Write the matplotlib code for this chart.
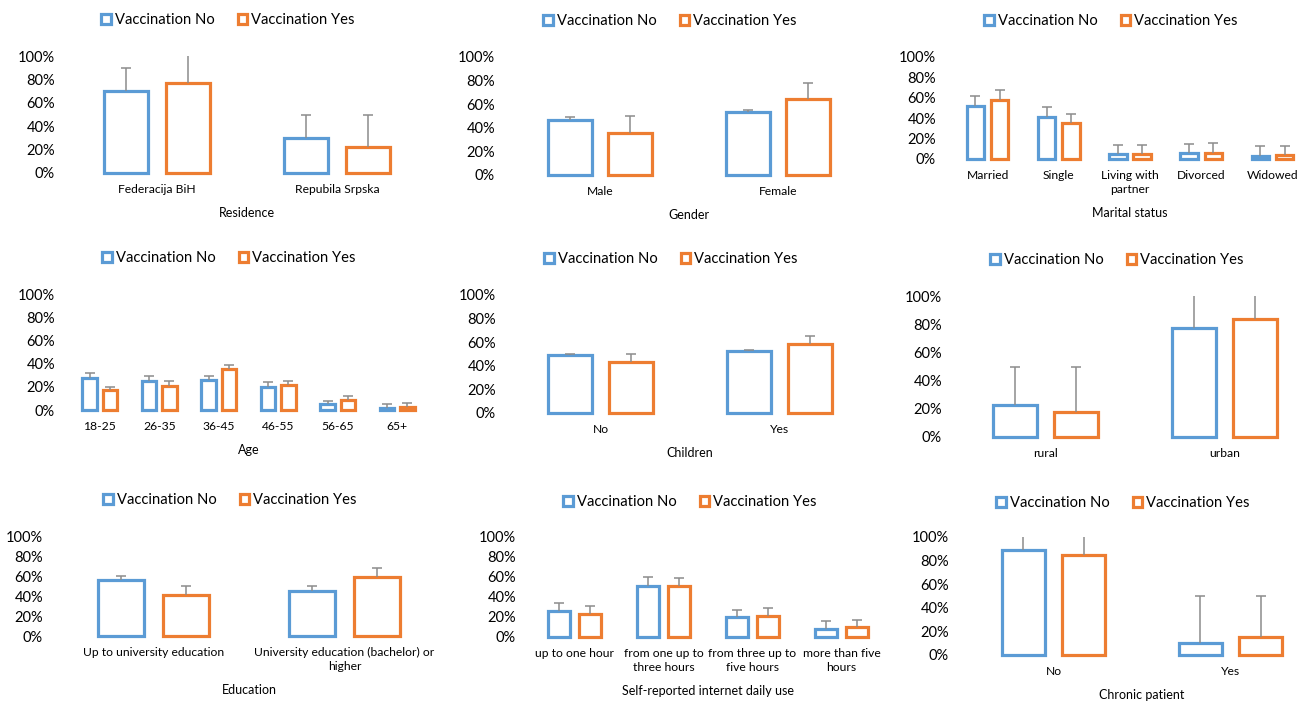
import matplotlib.pyplot as plt
from matplotlib.patches import Patch
from matplotlib.ticker import PercentFormatter

plt.rcParams['font.family'] = ['Lato', 'DejaVu Sans']

BLUE = '#5B9BD5'
ORANGE = '#ED7D31'
GREY = '#8c8c8c'
W, H = 1301, 703

# ---- data (share of respondents, upper end of error bar) ----
residence_cats = ['Federacija BiH', 'Repubila Srpska']
residence_no = [0.70, 0.30]
residence_yes = [0.77, 0.22]
residence_no_hi = [0.90, 0.50]
residence_yes_hi = [1.00, 0.50]

gender_cats = ['Male', 'Female']
gender_no = [0.47, 0.53]
gender_yes = [0.36, 0.64]
gender_no_hi = [0.49, 0.55]
gender_yes_hi = [0.50, 0.78]

marital_cats = ['Married', 'Single', 'Living with\npartner', 'Divorced', 'Widowed']
marital_no = [0.52, 0.41, 0.05, 0.055, 0.03]
marital_yes = [0.58, 0.35, 0.05, 0.06, 0.04]
marital_no_hi = [0.62, 0.51, 0.14, 0.15, 0.125]
marital_yes_hi = [0.68, 0.44, 0.14, 0.16, 0.13]

age_cats = ['18-25', '26-35', '36-45', '46-55', '56-65', '65+']
age_no = [0.28, 0.25, 0.26, 0.20, 0.05, 0.02]
age_yes = [0.17, 0.21, 0.35, 0.215, 0.086, 0.023]
age_no_hi = [0.316, 0.296, 0.29, 0.24, 0.08, 0.05]
age_yes_hi = [0.20, 0.25, 0.39, 0.25, 0.12, 0.057]

children_cats = ['No', 'Yes']
children_no = [0.49, 0.525]
children_yes = [0.43, 0.584]
children_no_hi = [0.50, 0.534]
children_yes_hi = [0.50, 0.654]

place_cats = ['rural', 'urban']
place_no = [0.23, 0.776]
place_yes = [0.177, 0.837]
place_no_hi = [0.50, 1.00]
place_yes_hi = [0.50, 1.00]

edu_cats = ['Up to university education', 'University education (bachelor) or\nhigher']
edu_no = [0.56, 0.453]
edu_yes = [0.41, 0.593]
edu_no_hi = [0.60, 0.50]
edu_yes_hi = [0.50, 0.677]

internet_cats = ['up to one hour', 'from one up to\nthree hours',
                 'from three up to\nfive hours', 'more than five\nhours']
internet_no = [0.257, 0.513, 0.197, 0.08]
internet_yes = [0.23, 0.513, 0.207, 0.097]
internet_no_hi = [0.34, 0.60, 0.273, 0.163]
internet_yes_hi = [0.31, 0.59, 0.29, 0.173]

chronic_cats = ['No', 'Yes']
chronic_no = [0.892, 0.10]
chronic_yes = [0.844, 0.156]
chronic_no_hi = [1.00, 0.50]
chronic_yes_hi = [1.00, 0.50]


def panel(fig, box, cats, no, yes, no_hi, yes_hi, xlabel, leg_xy, ypad):
    left, right, y0, y100 = box
    ax = fig.add_axes([left / W, 1 - y0 / H, (right - left) / W, (y0 - y100) / H])
    n = len(cats)
    xs = list(range(n))
    for off, vals, his, c in [(-0.17, no, no_hi, BLUE), (0.17, yes, yes_hi, ORANGE)]:
        px = [x + off for x in xs]
        ax.bar(px, vals, width=0.245, facecolor='white', edgecolor=c,
               linewidth=2.3, clip_on=False, zorder=2)
        for x, v, h in zip(px, vals, his):
            ax.vlines(x, v, h, color=GREY, linewidth=1.1, zorder=3)
            if h < 1.0:
                ax.plot(x, h, marker='_', markersize=6.5, color=GREY,
                        markeredgewidth=1.1, zorder=3)
    ax.set_xlim(-0.5, n - 0.5)
    ax.set_ylim(0, 1)
    ax.set_yticks([0, 0.2, 0.4, 0.6, 0.8, 1.0])
    ax.yaxis.set_major_formatter(PercentFormatter(1.0, decimals=0))
    ax.set_xticks(xs)
    ax.set_xticklabels(cats, fontsize=8.7, linespacing=1.35)
    ax.tick_params(axis='y', length=0, labelsize=10.5, pad=ypad * 0.72)
    ax.tick_params(axis='x', length=0, pad=8, colors='black')
    for s in ax.spines.values():
        s.set_visible(False)
    if xlabel:
        ax.set_xlabel(xlabel, fontsize=9, labelpad=8.5)
    handles = [Patch(facecolor='white', edgecolor=BLUE, linewidth=2.3, label='Vaccination No'),
               Patch(facecolor='white', edgecolor=ORANGE, linewidth=2.3, label='Vaccination Yes')]
    fig.legend(handles=handles, ncol=2, frameon=False, loc='center',
               bbox_to_anchor=(leg_xy[0] / W, 1 - leg_xy[1] / H),
               fontsize=10.6, handlelength=0.65, handleheight=0.65,
               handletextpad=0.25, columnspacing=1.6, borderpad=0)
    return ax


fig = plt.figure(figsize=(W / 100, H / 100), dpi=100)

panel(fig, (67, 427, 173, 56), residence_cats, residence_no, residence_yes,
      residence_no_hi, residence_yes_hi, 'Residence', (228, 20), 12)
panel(fig, (511, 867, 175, 57), gender_cats, gender_no, gender_yes,
      gender_no_hi, gender_yes_hi, 'Gender', (670, 21), 16)
panel(fig, (952, 1308, 159, 57), marital_cats, marital_no, marital_yes,
      marital_no_hi, marital_yes_hi, 'Marital status', (1111, 21), 16)
panel(fig, (70, 427, 410, 294), age_cats, age_no, age_yes,
      age_no_hi, age_yes_hi, 'Age', (229, 258), 15)
panel(fig, (511, 869, 413, 295), children_cats, children_no, children_yes,
      children_no_hi, children_yes_hi, 'Children', (671, 259), 15)
panel(fig, (956, 1314, 437, 296), place_cats, place_no, place_yes,
      place_no_hi, place_yes_hi, None, (1117, 260), 14)
panel(fig, (58, 440, 636, 536), edu_cats, edu_no, edu_yes,
      edu_no_hi, edu_yes_hi, 'Education', (230, 500), 15)
panel(fig, (530, 886, 637, 537), internet_cats, internet_no, internet_yes,
      internet_no_hi, internet_yes_hi, 'Self-reported internet daily use', (690, 502), 14)
panel(fig, (965, 1319, 655, 537), chronic_cats, chronic_no, chronic_yes,
      chronic_no_hi, chronic_yes_hi, 'Chronic patient', (1123, 503), 16)

fig.savefig('out.png', dpi=100)
